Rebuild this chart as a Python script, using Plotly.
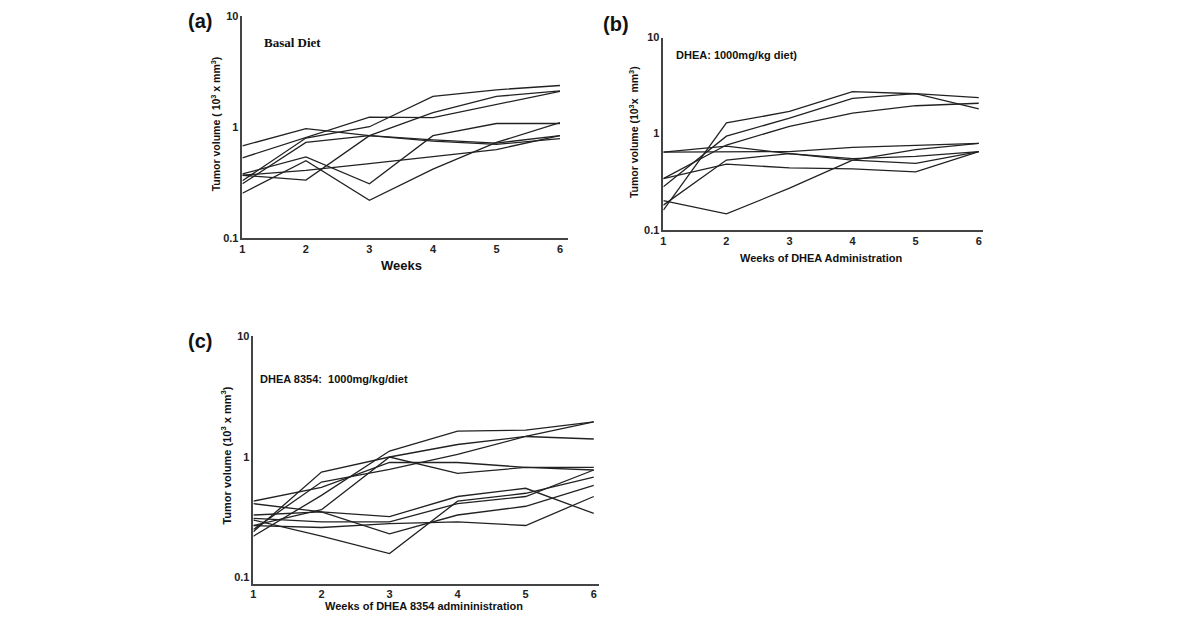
import plotly.graph_objects as go

W, H = 1200, 623
OFF = 8  # page body margin
FW, FH = W - 2 * OFF, H - 2 * OFF
weeks = [1, 2, 3, 4, 5, 6]

# Panel (a) Basal diet
basal = [
    [0.68, 0.97, 0.84, 0.77, 0.72, 0.84],
    [0.53, 0.81, 1.23, 1.22, 1.60, 2.10],
    [0.33, 0.80, 1.01, 1.89, 2.17, 2.37],
    [0.37, 0.335, 0.84, 1.35, 1.89, 2.12],
    [0.38, 0.54, 0.31, 0.84, 1.08, 1.08],
    [0.255, 0.50, 0.22, 0.42, 0.73, 1.10],
    [0.37, 0.41, 0.47, 0.54, 0.63, 0.84],
    [0.31, 0.73, 0.84, 0.75, 0.70, 0.79],
]

# Panel (b) DHEA
dhea = [
    [0.16, 1.29, 1.70, 2.73, 2.60, 2.37],
    [0.28, 0.94, 1.45, 2.33, 2.60, 1.81],
    [0.34, 0.76, 1.19, 1.63, 1.95, 2.07],
    [0.64, 0.74, 0.62, 0.53, 0.49, 0.65],
    [0.64, 0.64, 0.65, 0.72, 0.76, 0.79],
    [0.18, 0.53, 0.62, 0.55, 0.58, 0.65],
    [0.20, 0.146, 0.27, 0.53, 0.68, 0.79],
    [0.34, 0.48, 0.44, 0.43, 0.40, 0.65],
]

# Panel (c) DHEA 8354
dhea8354 = [
    [0.43, 0.56, 0.90, 0.90, 0.82, 0.82],
    [0.24, 0.75, 1.00, 1.27, 1.48, 1.96],
    [0.22, 0.48, 1.12, 1.64, 1.67, 1.96],
    [0.25, 0.62, 0.79, 1.05, 1.48, 1.41],
    [0.27, 0.365, 1.00, 0.73, 0.82, 0.78],
    [0.33, 0.35, 0.32, 0.47, 0.55, 0.34],
    [0.31, 0.29, 0.29, 0.41, 0.47, 0.78],
    [0.41, 0.35, 0.23, 0.33, 0.39, 0.58],
    [0.27, 0.26, 0.28, 0.29, 0.27, 0.47],
    [0.30, 0.22, 0.158, 0.43, 0.50, 0.68],
]

ytickvals = [0.1, 1, 10]
yticktext = ["<b>0.1</b>", "<b>1</b>", "<b>10</b>"]
xticktext = ["<b>%d</b>" % w for w in weeks]

LINE = dict(color="#222222", width=1.3)
FONT = "Liberation Sans, Arial, sans-serif"

fig = go.Figure()

panels = [
    ("x", "y", basal),
    ("x2", "y2", dhea),
    ("x3", "y3", dhea8354),
]
for xa, ya, data in panels:
    for s in data:
        fig.add_trace(go.Scatter(x=weeks, y=s, mode="lines", line=LINE,
                                 xaxis=xa, yaxis=ya, showlegend=False,
                                 hoverinfo="skip"))


def px_x(p):
    return (p - OFF) / FW


def px_y(p):
    return 1 - (p - OFF) / FH


def xaxis(x0, x1, anchor, xmax):
    return dict(domain=[px_x(x0), px_x(x1)], range=[1, xmax], anchor=anchor,
                showgrid=False, zeroline=False, showline=True,
                linecolor="#444444", linewidth=1.5, ticks="",
                tickvals=weeks, ticktext=xticktext,
                tickfont=dict(family=FONT, size=11, color="#222"),
                fixedrange=True)


def yaxis(y_top, y_bottom, anchor, ymin):
    return dict(domain=[px_y(y_bottom), px_y(y_top)], type="log",
                range=[ymin, 1], anchor=anchor, showgrid=False,
                zeroline=False, showline=True, linecolor="#444444",
                linewidth=1.5, ticks="", tickvals=ytickvals,
                ticktext=yticktext,
                tickfont=dict(family=FONT, size=11, color="#222"),
                fixedrange=True)


fig.update_layout(
    width=FW, height=FH,
    margin=dict(l=0, r=0, t=0, b=0),
    paper_bgcolor="white", plot_bgcolor="white",
    xaxis=xaxis(240, 566, "y", 6.12),
    yaxis=yaxis(10, 237, "x", -1),
    xaxis2=xaxis(662, 982, "y2", 6.06),
    yaxis2=yaxis(32, 228, "x2", -1),
    xaxis3=xaxis(251, 597, "y3", 6.07),
    yaxis3=yaxis(337, 589, "x3", -1.05),
)

ann = []


def add_text(text, x, y, size, family=FONT, angle=0, xanchor="center"):
    ann.append(dict(text=text, x=px_x(x), y=px_y(y), xref="paper", yref="paper",
                    showarrow=False, textangle=angle, xanchor=xanchor,
                    yanchor="middle",
                    font=dict(family=family, size=size, color="#111")))


add_text("<b>(a)</b>", 197, 15, 20)
add_text("<b>(b)</b>", 615, 18, 20)
add_text("<b>(c)</b>", 197, 342, 20)
add_text("<b>Basal Diet</b>", 260, 37, 13, family="Liberation Serif, Times New Roman, serif", xanchor="left")
add_text("<b>DHEA: 1000mg/kg diet)</b>", 673, 50, 11, xanchor="left")
add_text("<b>DHEA 8354:  1000mg/kg/diet</b>", 256, 380, 11, xanchor="left")
add_text("<b>Tumor volume ( 10<sup>3</sup> x mm<sup>3</sup>)</b>", 213, 120, 10.5, angle=-90)
add_text("<b>Tumor volume (10<sup>3</sup>x  mm<sup>3</sup>)</b>", 632, 128, 10.5, angle=-90)
add_text("<b>Tumor volume (10<sup>3</sup> x mm<sup>3</sup>)</b>", 224, 458, 11, angle=-90)
add_text("<b>Weeks</b>", 399, 265, 13)
add_text("<b>Weeks of DHEA Administration</b>", 820, 257, 11)
add_text("<b>Weeks of DHEA 8354 admininistration</b>", 422, 612, 11)

fig.update_layout(annotations=ann)

fig.write_html("out.html")
